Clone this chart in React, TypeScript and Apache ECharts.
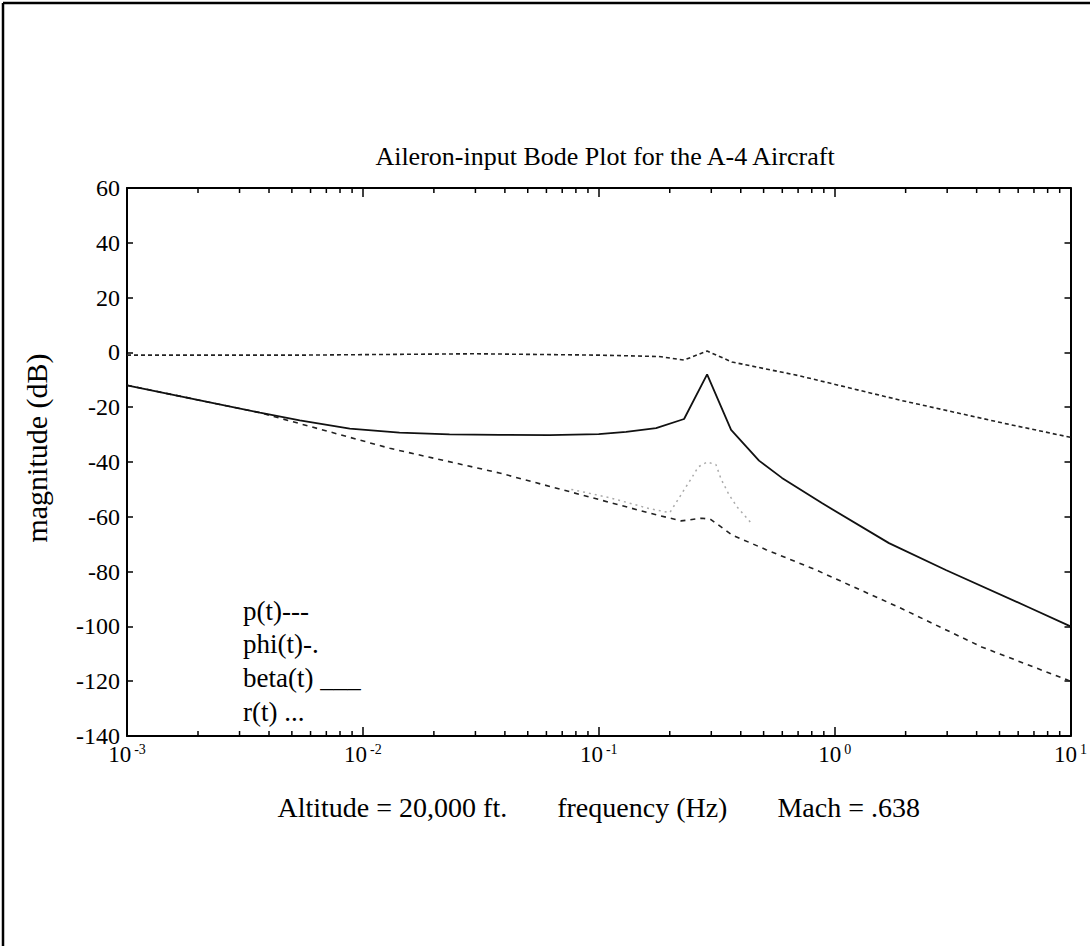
import React, { useEffect, useRef } from "react";
import * as echarts from "echarts";

const FONT = '"Liberation Serif", "Times New Roman", serif';

// Frequencies in Hz, magnitudes in dB
const pFreq = [0.001, 0.0054, 0.0297, 0.1, 0.18, 0.23, 0.288, 0.367, 0.706, 1.91, 5.31, 10];
const pMag = [-1, -1, -0.5, -1, -1.5, -2.8, 0.5, -3.5, -8.5, -17.5, -26, -31];

const phiFreq = [0.001, 0.00366, 0.013, 0.0379, 0.0765, 0.1636, 0.2234, 0.274, 0.299, 0.367, 0.512, 0.834, 1.87, 4.2, 10];
const phiMag = [-12, -22, -35, -44, -51, -58.6, -61.5, -60.5, -61, -66.6, -72, -79.4, -93, -107.5, -120];

const betaFreq = [0.001, 0.00204, 0.00366, 0.0054, 0.0088, 0.0143, 0.0233, 0.0379, 0.0617, 0.1, 0.1306, 0.175, 0.23, 0.288, 0.364, 0.478, 0.598, 0.883, 1.7, 2.96, 6.64, 10];
const betaMag = [-12, -17.5, -22, -24.8, -27.8, -29.3, -29.9, -30.1, -30.2, -29.8, -29, -27.6, -24.3, -8, -28.3, -39.5, -45.8, -55, -69.6, -79.4, -93, -100];

const rFreq = [0.0765, 0.111, 0.1636, 0.2, 0.237, 0.249, 0.264, 0.288, 0.314, 0.33, 0.357, 0.386, 0.45];
const rMag = [-50, -53, -57, -58.5, -48.4, -45.5, -41.8, -40, -41, -46.2, -52, -56.4, -63];

const xTickExponents = [-3, -2, -1, 0, 1];
const yTicks = { min: -140, max: 60, step: 20 };
const legendLines = ["p(t)---", "phi(t)-.", "beta(t) ___", "r(t) ..."];

const minorTicks: number[] = [];
for (let e = -3; e < 1; e++) {
  for (let k = 2; k <= 9; k++) minorTicks.push(k * Math.pow(10, e));
}

const zip = (xs: number[], ys: number[]) => xs.map((x, i) => [x, ys[i]]);

export default function App() {
  const ref = useRef<HTMLDivElement>(null);
  useEffect(() => {
    if (!ref.current) return;
    const chart = echarts.init(ref.current, undefined, { renderer: "svg" });
    const labelFmt = (v: number) => {
      const e = Math.round(Math.log10(v));
      return xTickExponents.includes(e) ? `{b|10}{s|${e}}` : "";
    };
    const axisLineStyle = { color: "#000", width: 2 };
    const baseX = {
      type: "log",
      logBase: 10,
      min: 0.001,
      max: 10,
      splitLine: { show: false },
      axisLine: { show: true, onZero: false, lineStyle: axisLineStyle },
      axisTick: { show: true, inside: true, length: 9, lineStyle: { color: "#000", width: 1.5 } },
      minorTick: { show: false },
    };
    const baseY = {
      type: "value",
      min: yTicks.min,
      max: yTicks.max,
      interval: yTicks.step,
      splitLine: { show: false },
      axisLine: { show: true, onZero: false, lineStyle: axisLineStyle },
      axisTick: { show: true, inside: true, length: 6, lineStyle: { color: "#000", width: 1.5 } },
    };
    const option: any = {
      animation: false,
      backgroundColor: "#fff",
      title: {
        text: "Aileron-input Bode Plot for the A-4 Aircraft",
        left: 600,
        textAlign: "center",
        top: 138,
        textStyle: { fontFamily: FONT, fontSize: 26, fontWeight: "normal", color: "#000" },
      },
      grid: { left: 127, right: 18, top: 188, bottom: 210 },
      xAxis: [
        {
          ...baseX,
          position: "bottom",
          axisLabel: {
            formatter: labelFmt,
            margin: 6,
            color: "#000",
            rich: {
              b: { fontFamily: FONT, fontSize: 23, color: "#000", lineHeight: 24 },
              s: { fontFamily: FONT, fontSize: 14, color: "#000", verticalAlign: "top", lineHeight: 14, padding: [0, 0, 0, 3] },
            },
          },
          name: "{a|Altitude = 20,000 ft.}{m|frequency (Hz)}{a|Mach = .638}",
          nameLocation: "middle",
          nameGap: 57,
          nameTextStyle: {
            rich: {
              a: { fontFamily: FONT, fontSize: 28, color: "#000" },
              m: { fontFamily: FONT, fontSize: 28, color: "#000", padding: [0, 50, 0, 50] },
            },
          },
        },
        { ...baseX, position: "top", axisLabel: { show: false } },
      ],
      yAxis: [
        {
          ...baseY,
          position: "left",
          axisLabel: { color: "#000", fontFamily: FONT, fontSize: 24, margin: 7 },
        },
        { ...baseY, position: "right", axisLabel: { show: false } },
      ],
      graphic: [
        { type: "line", shape: { x1: 3, y1: 3, x2: 1090, y2: 3 }, style: { stroke: "#000", lineWidth: 2.5 } },
        { type: "line", shape: { x1: 3, y1: 3, x2: 3, y2: 946 }, style: { stroke: "#000", lineWidth: 2.5 } },
        {
          type: "text",
          x: 36,
          y: 448,
          rotation: Math.PI / 2,
          style: {
            text: "magnitude (dB)",
            fontFamily: FONT,
            fontSize: 30,
            fill: "#000",
            align: "center",
            verticalAlign: "middle",
          },
        },
        ...legendLines.map((t, i) => ({
          type: "text",
          x: 243,
          y: [611, 644, 678, 712][i],
          style: { text: t, fontFamily: FONT, fontSize: 27, fill: "#000", verticalAlign: "middle" },
        })),
      ],
      series: [
        {
          name: "p(t)",
          type: "line",
          data: zip(pFreq, pMag),
          symbol: "none",
          lineStyle: { color: "#222", width: 1.6, type: [4, 3] },
        },
        {
          name: "phi(t)",
          type: "line",
          data: zip(phiFreq, phiMag),
          symbol: "none",
          lineStyle: { color: "#222", width: 1.6, type: [5, 5] },
        },
        {
          name: "beta(t)",
          type: "line",
          data: zip(betaFreq, betaMag),
          symbol: "none",
          lineStyle: { color: "#111", width: 1.8 },
        },
        {
          name: "r(t)",
          type: "line",
          data: zip(rFreq, rMag),
          symbol: "none",
          lineStyle: { color: "#aaa", width: 1.5, type: [2, 4] },
        },
        {
          name: "minor ticks",
          type: "custom",
          data: minorTicks.map((v) => [v, yTicks.min]),
          encode: { x: 0, y: 1 },
          silent: true,
          renderItem: (params: any, api: any) => {
            const x = api.coord([api.value(0), yTicks.min])[0];
            const cs = params.coordSys;
            const st = { stroke: "#000", lineWidth: 1.5 };
            return {
              type: "group",
              children: [
                { type: "line", shape: { x1: x, y1: cs.y + cs.height, x2: x, y2: cs.y + cs.height - 5 }, style: st },
                { type: "line", shape: { x1: x, y1: cs.y, x2: x, y2: cs.y + 5 }, style: st },
              ],
            };
          },
        },
      ],
    };
    chart.setOption(option);
    return () => chart.dispose();
  }, []);
  return (
    <div
      ref={ref}
      style={{ position: "absolute", left: 0, top: 0, width: 1090, height: 946, background: "#fff" }}
    />
  );
}
